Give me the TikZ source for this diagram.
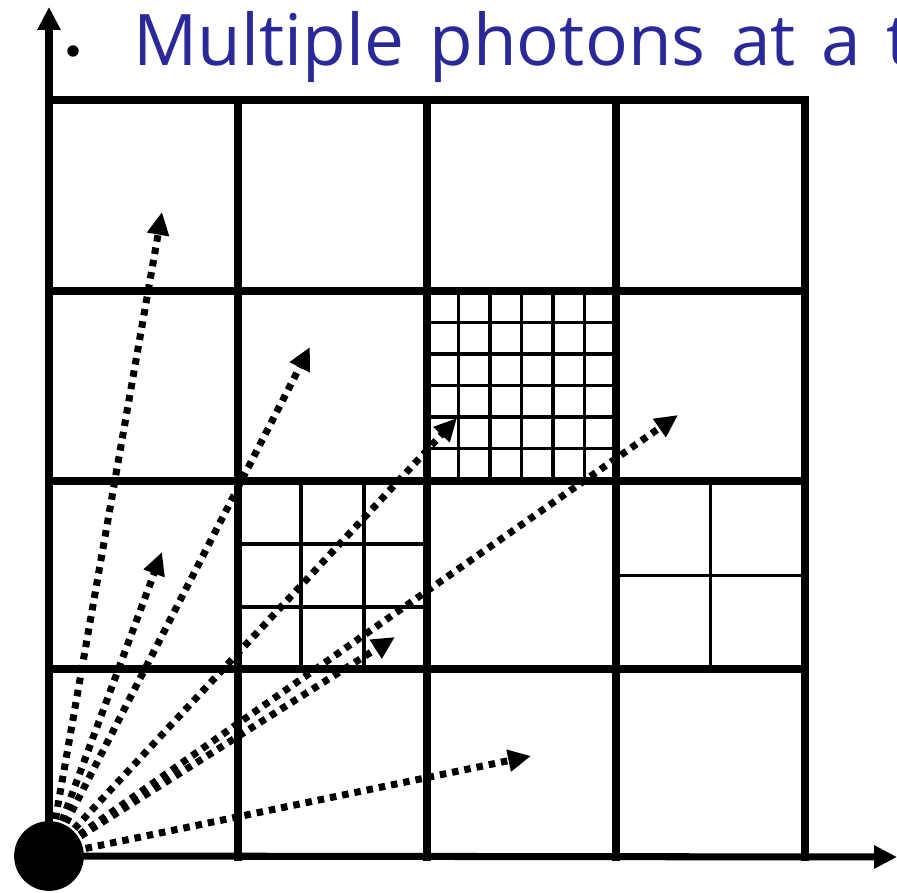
\documentclass[tikz,border=0pt]{standalone}
\usepackage{fontspec}
\setmainfont{Open Sans}
\newfontfamily\phtitlefont[WordSpace=1.39]{Open Sans}
\usepackage{tikz}
\usetikzlibrary{arrows.meta, positioning}
\definecolor{PHblue}{HTML}{29299A}
\definecolor{PHink}{HTML}{000000}
\tikzset{
  phgrid/.style={line width=4pt, draw=PHink, line cap=rect},
  phfine/.style={line width=2pt, draw=PHink},
  phaxis/.style={-{Triangle[length=13pt,width=12.5pt]}, line width=4pt, draw=PHink},
  phray/.style={-{Triangle[length=13pt,width=12pt]}, line width=4pt, draw=PHink,
    dash pattern=on 3.7pt off 3.4pt},
  phsrc/.style={circle, fill=PHink, minimum size=39.7pt, inner sep=0pt},
  phbul/.style={circle, fill=PHink, minimum size=6.5pt, inner sep=0pt},
  phtitle/.style={text=PHblue, font=\phtitlefont\fontsize{40.5}{46}\selectfont,
    inner sep=0pt, anchor=base west},
}

\begin{document}
\begin{tikzpicture}[x=0.02cm, y=-0.02cm]
  \useasboundingbox (0,0) rectangle (897,893);
  \coordinate (o) at (49,856);
  \coordinate (ytop) at (49,7);
  \coordinate (xend) at (897,857);
  \node[phbul] (bul) at (73,51) {};
  \node[phtitle] (title) at (133,65) {Multiple photons at a t};
  \foreach \y in {100,291,481,669} \draw[phgrid] (49,\y) -- (805,\y);
  \foreach \x in {238,427,616,805} \draw[phgrid] (\x,100) -- (\x,857);
  \foreach \cx/\cy/\n in {427/291/6, 238/481/3, 616/481/2}{
    \pgfmathtruncatemacro\m{\n-1}
    \foreach \i in {1,...,\m}{
      \draw[phfine] ({\cx+\i*189/\n},\cy) -- ({\cx+\i*189/\n},\cy+189);
      \draw[phfine] (\cx,{\cy+\i*189/\n}) -- (\cx+189,{\cy+\i*189/\n});
    }
  }
  \coordinate (t1) at (162,212);
  \coordinate (t2) at (310,347);
  \coordinate (t3) at (457,418);
  \coordinate (t4) at (678,415);
  \coordinate (t5) at (162,552);
  \coordinate (t6) at (395,637);
  \coordinate (t7) at (531,756);
  \foreach \t in {t1,t2,t3,t4,t5,t6,t7} \draw[phray] (o) -- (\t);
  \draw[phaxis] (o) -- (ytop);
  \draw[phaxis] (o) -- (xend);
  \node[phsrc] (src) at (o) {};
\end{tikzpicture}
\end{document}
